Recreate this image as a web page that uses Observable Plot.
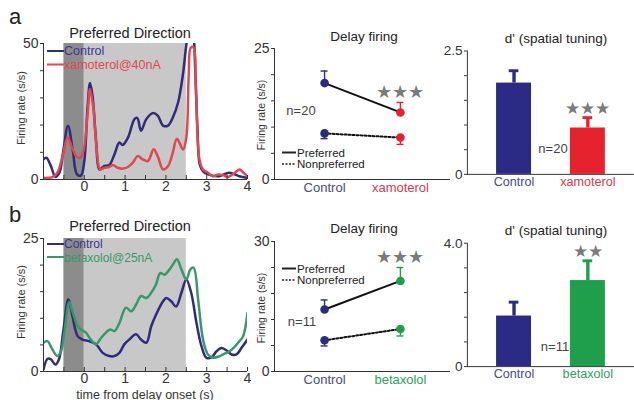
<!DOCTYPE html>
<html><head><meta charset="utf-8">
<script src="https://cdn.jsdelivr.net/npm/d3@7"></script>
<script src="https://cdn.jsdelivr.net/npm/@observablehq/plot@0.6"></script>
<style>
body{margin:0;background:#fff;}
#fig{position:relative;width:634px;height:400px;overflow:hidden;background:#fff;}
</style></head><body><div id="fig"></div>
<script>
// ---------- data ----------
const timeDomain = [-1, 4];
const cueEpoch = [-0.5, 0];
const delayEpoch = [0, 2.5];
const timeTicks = [-0.5, 0, 0.5, 1, 1.5, 2, 2.5, 3, 3.5, 4];
const timeTickLabels = [0, 1, 2, 3, 4];

// row a: xamoterol, preferred direction firing (s/s)
const aCtrlT = [-1,-0.93,-0.82,-0.71,-0.61,-0.52,-0.4,-0.28,-0.18,-0.08,0,0.08,0.14,0.2,0.29,0.37,0.49,0.61,0.74,0.86,0.94,1.07,1.23,1.3,1.39,1.52,1.68,1.8,1.93,2.05,2.17,2.3,2.42,2.5,2.58,2.66,2.72,2.77,2.83,2.91,3.05,3.3,3.55,3.8,4];
const aCtrlRate = [7.4,8,5,1,2.5,10,19.8,10.5,1.9,1.5,6.8,26.5,35.5,31,14,3.7,5,5.3,9.3,13.6,12.7,15.4,22.2,22.6,17.9,22.2,24.4,23.5,19.8,19.8,22.8,28.4,38.9,49.4,56,54,40,20,5.5,3,1.8,1.2,2.5,1.2,0.6];
const aXamT = [-1,-0.78,-0.66,-0.52,-0.41,-0.3,-0.2,-0.1,-0.02,0.08,0.14,0.22,0.3,0.39,0.49,0.61,0.7,0.82,0.94,1.07,1.19,1.31,1.43,1.56,1.7,1.8,1.93,2.05,2.16,2.27,2.42,2.5,2.56,2.61,2.68,2.73,2.78,2.83,2.91,3.03,3.15,3.28,3.4,3.52,3.69,3.81,3.9,4];
const aXamRate = [0.6,0.9,2.5,9.3,15.4,11.7,8.6,8,10.5,24,33.3,26.5,11.7,3.7,4.3,4.6,5.3,4.3,4,4.6,6.2,8.6,7.4,6.8,11.1,8.6,3.7,4.9,9.3,15,11,15.4,38.9,48.5,48.5,35,15,6.8,3.7,2.5,1.2,1.8,1.6,0.9,2.5,3.7,2.5,1.2];
const aRateTicks = [0, 10, 20, 30, 40, 50];

// row b: betaxolol
const bCtrlT = [-1,-0.9,-0.82,-0.71,-0.62,-0.52,-0.39,-0.29,-0.16,-0.04,0.12,0.29,0.45,0.61,0.74,0.86,0.98,1.1,1.27,1.39,1.52,1.64,1.76,1.93,2.01,2.13,2.25,2.38,2.5,2.62,2.75,2.87,2.99,3.11,3.24,3.36,3.48,3.61,3.73,3.85,4];
const bCtrlRate = [0.4,2.4,2.3,1.3,2.3,7.3,13.6,10.4,6.6,6,5.7,5.1,3.5,2.9,2.9,3.5,5.1,6,7,6,5.4,8.5,10.7,13.2,13.8,13.2,12.2,14.8,17.3,14.8,9.1,4.8,2.6,2.6,3.8,4.4,4,3.2,3.2,4.4,6];
const bBetaT = [-1,-0.9,-0.8,-0.66,-0.57,-0.49,-0.37,-0.29,-0.16,-0.08,0.04,0.16,0.29,0.41,0.53,0.63,0.74,0.86,1.02,1.15,1.27,1.39,1.52,1.64,1.76,1.86,1.97,2.09,2.17,2.27,2.38,2.5,2.6,2.68,2.79,2.91,3.03,3.16,3.32,3.48,3.61,3.77,3.89,4];
const bBetaRate = [5.4,5.7,4.4,2.9,3.8,7.3,13,11.3,8.5,7.9,7.3,6,5.1,6.3,7.3,7.9,7.6,9.1,12,11.3,12.6,14.2,13.8,14.8,16.4,18.5,18.2,19.2,20.1,21.1,19.2,17.3,19.2,19.5,13.5,6,3.2,2.6,2.9,3.5,4.1,5.4,6.6,11];
const bRateTicks = [0, 5, 10, 15, 20, 25];

// delay firing (mean, sem)
const delayXDomain = [-0.66, 1.66];
const groupsA = ["Control", "xamoterol"];
const prefA = [18.4, 12.8], prefSemA = [2.3, 1.9];
const nonprefA = [8.8, 8.0], nonprefSemA = [1.0, 1.3];
const delayTicksA = [0, 5, 10, 15, 20, 25];
const groupsB = ["Control", "betaxolol"];
const prefB = [14.3, 20.9], prefSemB = [2.2, 3.1];
const nonprefB = [7.2, 9.8], nonprefSemB = [1.3, 1.6];
const delayTicksB = [0, 6, 12, 18, 24, 30];

// d' (spatial tuning)
const dprimeA = [1.85, 0.94], dprimeSemA = [0.25, 0.21];
const dprimeTicksA = [0, 0.5, 1, 1.5, 2, 2.5];
const dprimeB = [1.64, 2.79], dprimeSemB = [0.45, 0.64];
const dprimeTicksB = [0, 0.8, 1.6, 2.4, 3.2, 4.0];

// ---------- style ----------
const FONT = "'Liberation Sans', Arial, Helvetica, sans-serif";
const AXIS = "#333";
const STAR = "#7b7b7b";
const CUE_GRAY = "#8c8c8c", DELAY_GRAY = "#c8c8c8";
const NAVY_LINE = "#302b7a", RED_LINE = "#e2474f", GREEN_LINE = "#37996a";
const NAVY = "#2b2b86", RED = "#e6222e", GREEN = "#1f9e4c";
const NAVY_LBL = "#4a4789", RED_LBL = "#d93a50", GREEN_LBL = "#2ea15c";
const STYLE = {background: "transparent", fontFamily: FONT, fontSize: "13px", color: "#333", overflow: "visible"};
const TICK_FONT = 14;

const fig = document.getElementById("fig");
function place(node, left, top) {
  const d = document.createElement("div");
  d.style.cssText = `position:absolute;left:${left}px;top:${top}px;`;
  d.appendChild(node);
  fig.appendChild(d);
}
const endFmt = (yMax, fmt) => d => d === 0 ? "0" : d === yMax ? fmt(d) : "";

function timePlot({mt, mb, yMax, yTicks, series}) {
  return Plot.plot({
    width: 255, height: 200, marginLeft: 43, marginRight: 8, marginTop: mt, marginBottom: mb,
    style: STYLE,
    x: {domain: timeDomain},
    y: {domain: [0, yMax]},
    marks: [
      Plot.rect([cueEpoch], {x1: d => d[0], x2: d => d[1], y1: 0, y2: yMax, fill: CUE_GRAY}),
      Plot.rect([delayEpoch], {x1: d => d[0], x2: d => d[1], y1: 0, y2: yMax, fill: DELAY_GRAY}),
      ...series.map(s => Plot.line(s.t.map((t, i) => [t, s.r[i]]), {x: d => d[0], y: d => d[1], stroke: s.color, strokeWidth: 2.5, curve: "catmull-rom", clip: true})),
      Plot.ruleX([timeDomain[0]], {stroke: AXIS}),
      Plot.ruleY([0], {stroke: AXIS}),
      Plot.ruleX(timeTicks, {x: d => d, y1: 0, y2: 0, insetBottom: 4, stroke: AXIS}),
      Plot.axisY({ticks: yTicks, tickSize: 3, tickPadding: 2, fontSize: TICK_FONT, tickFormat: endFmt(yMax, String)}),
      Plot.axisX({ticks: timeTickLabels, tickSize: 0, tickPadding: 1.5, fontSize: TICK_FONT, tickFormat: d => String(d)})
    ]
  });
}

function delayPlot({mt, mb, yMax, yTicks, groups, colors, labelColors, pref, prefSem, non, nonSem, stars}) {
  const P = groups.map((g, i) => ({g, i, m: pref[i], e: pref[i] + prefSem[i]}));
  const N = groups.map((g, i) => ({g, i, m: non[i], e: non[i] - nonSem[i]}));
  return Plot.plot({
    width: 215, height: 200, marginLeft: 34, marginRight: 5, marginTop: mt, marginBottom: mb,
    style: STYLE,
    x: {domain: delayXDomain, axis: null},
    y: {domain: [0, yMax], axis: null},
    color: {domain: groups, range: colors},
    marks: [
      Plot.ruleX([delayXDomain[0]], {stroke: AXIS}),
      Plot.ruleY([0], {stroke: AXIS}),
      Plot.axisY({ticks: yTicks, tickSize: 3, tickPadding: 2, fontSize: TICK_FONT, tickFormat: endFmt(yMax, String)}),
      Plot.line(P, {x: "i", y: "m", stroke: "#111", strokeWidth: 2}),
      Plot.line(N, {x: "i", y: "m", stroke: "#111", strokeWidth: 2, strokeDasharray: "2,2"}),
      ...[P, N].flatMap(D => [
        Plot.ruleX(D, {x: "i", y1: "m", y2: "e", stroke: "g", strokeWidth: 1.4}),
        Plot.ruleY(D, {y: "e", x1: "i", x2: "i", insetLeft: -3.5, insetRight: -3.5, stroke: "g", strokeWidth: 1.4}),
        Plot.dot(D, {x: "i", y: "m", r: 4.3, fill: "g"})
      ]),
      Plot.text([P[1]], {x: "i", y: "e", text: () => stars, dy: -10, fill: STAR, fontSize: 18}),
      ...groups.map((g, i) => Plot.text([g], {x: () => i, text: d => d, frameAnchor: "bottom", lineAnchor: "top", dy: 3, fill: labelColors[i]}))
    ]
  });
}

function dprimePlot({mt, mb, yMax, yTicks, groups, colors, labelColors, vals, sems, stars}) {
  const D = groups.map((g, i) => ({g, m: vals[i], e: vals[i] + sems[i]}));
  return Plot.plot({
    width: 210, height: 200, marginLeft: 38, marginRight: 0, marginTop: mt, marginBottom: mb,
    style: STYLE,
    x: {type: "band", domain: groups, paddingInner: 0.53, paddingOuter: 0.39, axis: null},
    y: {domain: [0, yMax], axis: null},
    color: {domain: groups, range: colors},
    marks: [
      Plot.barY(D, {x: "g", y: "m", fill: "g"}),
      Plot.ruleX(D, {x: "g", y1: "m", y2: "e", stroke: "g", strokeWidth: 3.5}),
      Plot.tickY(D, {x: "g", y: "e", stroke: "g", strokeWidth: 3, insetLeft: 13, insetRight: 13}),
      Plot.frame({anchor: "left", stroke: AXIS}),
      Plot.ruleY([0], {stroke: AXIS}),
      Plot.axisY({ticks: yTicks, tickSize: 3, tickPadding: 2, fontSize: TICK_FONT, tickFormat: endFmt(yMax, d3.format(".1f"))}),
      Plot.text([D[1]], {x: "g", y: "e", text: () => stars, dy: -10, fill: STAR, fontSize: 18}),
      ...groups.map((g, i) => Plot.text([g], {x: d => d, text: d => d, frameAnchor: "bottom", lineAnchor: "top", dy: 3, fill: labelColors[i]}))
    ]
  });
}

// ---------- panels ----------
place(timePlot({mt: 43, mb: 21, yMax: 50, yTicks: aRateTicks, series: [
  {t: aCtrlT, r: aCtrlRate, color: NAVY_LINE},
  {t: aXamT, r: aXamRate, color: RED_LINE}
]}), 0, 0);
place(timePlot({mt: 38, mb: 29, yMax: 25, yTicks: bRateTicks, series: [
  {t: bCtrlT, r: bCtrlRate, color: NAVY_LINE},
  {t: bBetaT, r: bBetaRate, color: GREEN_LINE}
]}), 0, 200);

place(delayPlot({mt: 48, mb: 21, yMax: 25, yTicks: delayTicksA, groups: groupsA, colors: [NAVY, RED], labelColors: [NAVY_LBL, RED_LBL],
  pref: prefA, prefSem: prefSemA, non: nonprefA, nonSem: nonprefSemA, stars: "★★★"}), 240, 0);
place(delayPlot({mt: 41, mb: 29, yMax: 30, yTicks: delayTicksB, groups: groupsB, colors: [NAVY, GREEN], labelColors: [NAVY_LBL, GREEN_LBL],
  pref: prefB, prefSem: prefSemB, non: nonprefB, nonSem: nonprefSemB, stars: "★★★"}), 240, 200);

place(dprimePlot({mt: 52, mb: 21, yMax: 2.5, yTicks: dprimeTicksA, groups: groupsA, colors: [NAVY, RED], labelColors: [NAVY_LBL, RED_LBL],
  vals: dprimeA, sems: dprimeSemA, stars: "★★★"}), 430, 0);
place(dprimePlot({mt: 44, mb: 29, yMax: 4.0, yTicks: dprimeTicksB, groups: groupsB, colors: [NAVY, GREEN], labelColors: [NAVY_LBL, GREEN_LBL],
  vals: dprimeB, sems: dprimeSemB, stars: "★★"}), 430, 200);

// ---------- annotations (titles, labels, legends) ----------
const ov = d3.select(fig).append("svg")
  .attr("width", 634).attr("height", 400)
  .style("position", "absolute").style("left", "0px").style("top", "0px")
  .attr("font-family", FONT);
function txt(s, x, y, {size = 13, color = "#222", anchor = "start", rotate = false} = {}) {
  const t = ov.append("text").attr("font-size", size).attr("fill", color).attr("text-anchor", anchor).text(s);
  if (rotate) t.attr("transform", `translate(${x},${y}) rotate(-90)`).attr("dominant-baseline", "central");
  else t.attr("x", x).attr("y", y);
}
function legendLine(x1, x2, y, color, dash) {
  ov.append("line").attr("x1", x1).attr("x2", x2).attr("y1", y).attr("y2", y)
    .attr("stroke", color).attr("stroke-width", dash ? 1.5 : 2).attr("stroke-dasharray", dash || null);
}

// panel letters
txt("a", 9, 24, {size: 22});
txt("b", 9, 222, {size: 22});
// titles
txt("Preferred Direction", 130, 37.5, {size: 14.5, anchor: "middle"});
txt("Preferred Direction", 130, 231, {size: 14.5, anchor: "middle"});
txt("Delay firing", 364, 40.5, {size: 13.5, anchor: "middle"});
txt("Delay firing", 364, 233, {size: 13.5, anchor: "middle"});
txt("d' (spatial tuning)", 556, 42.5, {size: 13.5, anchor: "middle"});
txt("d' (spatial tuning)", 556, 235, {size: 13.5, anchor: "middle"});
// axis titles
txt("Firing rate (s/s)", 21, 108, {size: 11, anchor: "middle", rotate: true, color: "#333"});
txt("Firing rate (s/s)", 21, 302, {size: 11, anchor: "middle", rotate: true, color: "#333"});
txt("Firing rate (s/s)", 261, 115, {size: 10.5, anchor: "middle", rotate: true, color: "#333"});
txt("Firing rate (s/s)", 261, 308, {size: 10.5, anchor: "middle", rotate: true, color: "#333"});
txt("time from delay onset (s)", 145, 398.5, {size: 12.5, anchor: "middle", color: "#333"});
// time-course legends
legendLine(47, 64, 51, NAVY_LINE); txt("Control", 64, 55, {size: 12.5, color: "#3a3690"});
legendLine(47, 64, 64.5, RED_LINE); txt("xamoterol@40nA", 64, 68.5, {size: 12.5, color: RED_LINE});
legendLine(47, 64, 244, NAVY_LINE); txt("Control", 64, 248, {size: 12, color: "#3a3690"});
legendLine(47, 64, 257, GREEN_LINE); txt("betaxolol@25nA", 64, 261.5, {size: 12, color: GREEN_LINE});
// delay firing legends
legendLine(282, 296, 152.5, "#222"); txt("Preferred", 297, 156.5, {size: 11.5});
legendLine(282, 296, 164, "#222", "2,1.5"); txt("Nonpreferred", 297, 168, {size: 11.5});
legendLine(282, 296, 268.5, "#222"); txt("Preferred", 297, 272.5, {size: 11.5});
legendLine(282, 296, 280, "#222", "2,1.5"); txt("Nonpreferred", 297, 284, {size: 11.5});
// n labels
txt("n=20", 301, 114.5, {anchor: "middle", color: "#444"});
txt("n=11", 302, 326, {anchor: "middle", color: "#444"});
txt("n=20", 553, 152.5, {anchor: "middle", color: "#444"});
txt("n=11", 555, 350.5, {anchor: "middle", color: "#444"});
</script></body></html>
